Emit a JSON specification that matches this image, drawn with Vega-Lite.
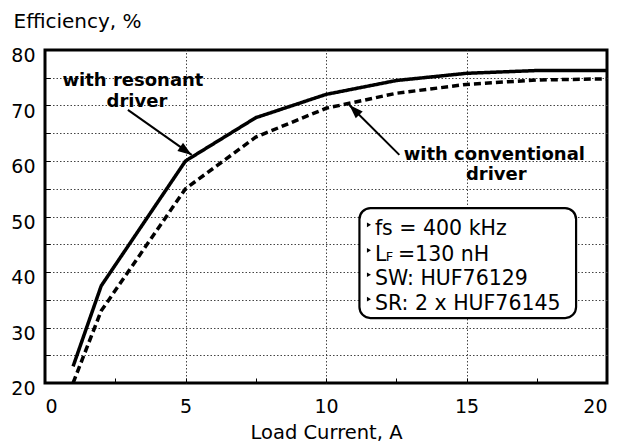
{
  "$schema": "https://vega.github.io/schema/vega-lite/v6.json",
  "width": 562,
  "height": 333,
  "autosize": "none",
  "padding": {"left": 45, "top": 50, "right": 16, "bottom": 59},
  "background": "white",
  "config": {
    "font": "DejaVu Sans",
    "view": {"stroke": "#000", "strokeWidth": 3},
    "axis": {"labelColor": "#000", "titleColor": "#000", "labelFontSize": 19, "titleFontSize": 20, "titleFontWeight": "normal", "labelFont": "DejaVu Sans", "titleFont": "DejaVu Sans"}
  },
  "datasets": {
    "curves": [
      {"series": "resonant", "current": 1, "eff": 23},
      {"series": "resonant", "current": 2, "eff": 37.5},
      {"series": "resonant", "current": 5, "eff": 60},
      {"series": "resonant", "current": 7.5, "eff": 67.8},
      {"series": "resonant", "current": 10, "eff": 72},
      {"series": "resonant", "current": 12.5, "eff": 74.5},
      {"series": "resonant", "current": 15, "eff": 75.8},
      {"series": "resonant", "current": 17.5, "eff": 76.3},
      {"series": "resonant", "current": 20, "eff": 76.3},
      {"series": "conventional", "current": 1, "eff": 20},
      {"series": "conventional", "current": 2, "eff": 33},
      {"series": "conventional", "current": 5, "eff": 55},
      {"series": "conventional", "current": 7.5, "eff": 64.3},
      {"series": "conventional", "current": 10, "eff": 69.5},
      {"series": "conventional", "current": 12.5, "eff": 72.2},
      {"series": "conventional", "current": 15, "eff": 73.8},
      {"series": "conventional", "current": 17.5, "eff": 74.6},
      {"series": "conventional", "current": 20, "eff": 74.8}
    ],
    "arrows": [
      {"x": 2.95, "y": 69.2, "x2": 5.22, "y2": 61.1, "angle": 125},
      {"x": 12.61, "y": 61.1, "x2": 10.83, "y2": 70.1, "angle": 315}
    ],
    "box": [{"x": 11.19, "x2": 18.9, "y": 51.5, "y2": 31.7}],
    "notes": [
      {"x": 3.13, "y": 73.5, "t": "with resonant"},
      {"x": 3.27, "y": 69.7, "t": "driver"},
      {"x": 15.99, "y": 60.2, "t": "with conventional"},
      {"x": 16.06, "y": 56.6, "t": "driver"}
    ],
    "boxtext": [
      {"x": 11.74, "y": 46.6, "t": "fs = 400 kHz", "fs": 20.5},
      {"x": 11.74, "y": 42.0, "t": "L", "fs": 20.5},
      {"x": 12.13, "y": 42.0, "t": "F", "fs": 13},
      {"x": 12.56, "y": 42.0, "t": "=130 nH", "fs": 20.5},
      {"x": 11.74, "y": 37.6, "t": "SW: HUF76129", "fs": 20.5},
      {"x": 11.74, "y": 33.2, "t": "SR: 2 x HUF76145", "fs": 20.5}
    ],
    "bullets": [
      {"x": 11.53, "y": 48.5},
      {"x": 11.53, "y": 43.9},
      {"x": 11.53, "y": 39.5},
      {"x": 11.53, "y": 35.1}
    ]
  },
  "resolve": {"axis": {"x": "independent", "y": "independent"}},
  "layer": [
    {
      "data": {"name": "arrows"},
      "mark": {"type": "rule", "color": "#000", "strokeWidth": 2},
      "encoding": {
        "x": {"field": "x", "type": "quantitative", "scale": {"domain": [0, 20], "nice": false, "zero": false},
          "axis": {"orient": "top", "values": [5, 10, 15], "grid": true, "gridColor": "#444", "gridDash": [1.5, 2], "gridWidth": 1, "labels": false, "ticks": false, "domain": false, "title": null}},
        "y": {"field": "y", "type": "quantitative", "scale": {"domain": [20, 80], "nice": false, "zero": false},
          "axis": {"orient": "right", "values": [25, 30, 35, 40, 45, 50, 55, 60, 65, 70, 75], "grid": true, "gridColor": "#444", "gridDash": [1.5, 2], "gridWidth": 1, "labels": false, "ticks": false, "domain": false, "title": null}},
        "x2": {"field": "x2"},
        "y2": {"field": "y2"}
      }
    },
    {
      "data": {"name": "box"},
      "mark": {"type": "rect", "fill": "#fff", "stroke": "#000", "strokeWidth": 2.2, "cornerRadius": 11},
      "encoding": {
        "x": {"field": "x", "type": "quantitative", "axis": null},
        "x2": {"field": "x2"},
        "y": {"field": "y", "type": "quantitative", "axis": null},
        "y2": {"field": "y2"}
      }
    },
    {
      "data": {"name": "curves"},
      "mark": {"type": "line", "color": "#000", "strokeWidth": 3.5, "strokeCap": "butt"},
      "encoding": {
        "x": {"field": "current", "type": "quantitative",
          "axis": {"orient": "bottom", "values": [0, 5, 10, 15, 20], "ticks": false, "domain": false, "grid": false, "labelPadding": 14, "title": "Load Current, A", "titleFontSize": 19.5, "titleY": 55, "titleBaseline": "alphabetic"}},
        "y": {"field": "eff", "type": "quantitative",
          "axis": {"orient": "left", "values": [20, 30, 40, 50, 60, 70, 80], "ticks": false, "domain": false, "grid": false, "labelPadding": 10, "labelOffset": 5.5, "title": "Efficiency, %", "titleAngle": 0, "titleAlign": "left", "titleBaseline": "alphabetic", "titleX": -32, "titleY": -23}},
        "strokeDash": {"field": "series", "type": "nominal", "scale": {"domain": ["resonant", "conventional"], "range": [[1, 0], [7, 4]]}, "legend": null},
        "detail": {"field": "series"}
      }
    },
    {
      "data": {"name": "arrows"},
      "mark": {"type": "point", "shape": "M0,0L-0.35,1L0.35,1Z", "filled": true, "color": "#000", "opacity": 1, "size": 784},
      "encoding": {
        "x": {"field": "x2", "type": "quantitative",
          "axis": {"orient": "bottom", "values": [2.5, 5, 7.5, 10, 12.5, 15, 17.5], "ticks": true, "tickSize": -5, "tickColor": "#000", "labels": false, "domain": false, "grid": false, "title": null}},
        "y": {"field": "y2", "type": "quantitative",
          "axis": {"orient": "left", "values": [25, 30, 35, 40, 45, 50, 55, 60, 65, 70, 75], "ticks": true, "tickSize": -5, "tickColor": "#000", "labels": false, "domain": false, "grid": false, "title": null}},
        "angle": {"field": "angle", "type": "quantitative", "scale": null}
      }
    },
    {
      "data": {"name": "notes"},
      "mark": {"type": "text", "font": "DejaVu Sans", "fontWeight": "bold", "fontSize": 18, "align": "center", "baseline": "alphabetic", "color": "#000"},
      "encoding": {
        "x": {"field": "x", "type": "quantitative", "axis": null},
        "y": {"field": "y", "type": "quantitative", "axis": null},
        "text": {"field": "t"}
      }
    },
    {
      "data": {"name": "boxtext"},
      "mark": {"type": "text", "font": "DejaVu Sans", "align": "left", "baseline": "alphabetic", "color": "#000"},
      "encoding": {
        "x": {"field": "x", "type": "quantitative", "axis": null},
        "y": {"field": "y", "type": "quantitative", "axis": null},
        "size": {"field": "fs", "type": "quantitative", "scale": null},
        "text": {"field": "t"}
      }
    },
    {
      "data": {"name": "bullets"},
      "mark": {"type": "point", "shape": "triangle-right", "filled": true, "color": "#000", "opacity": 1, "size": 22},
      "encoding": {
        "x": {"field": "x", "type": "quantitative", "axis": null},
        "y": {"field": "y", "type": "quantitative", "axis": null}
      }
    }
  ]
}
